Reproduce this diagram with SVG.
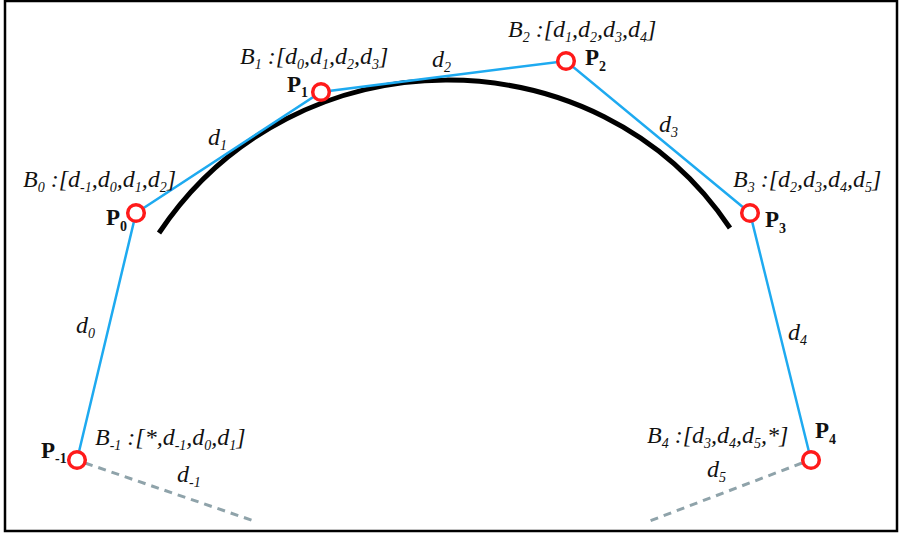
<svg xmlns="http://www.w3.org/2000/svg" width="899" height="535" viewBox="0 0 899 535">
<style>
.lab{font-family:"Liberation Serif","Times New Roman",serif;font-style:italic;font-size:24px;fill:#111}
.s{font-size:14px}
.pl{font-family:"Liberation Serif","Times New Roman",serif;font-weight:bold;font-size:23px;fill:#111}
.ps{font-size:14px}
.seg{stroke:#1eaaf0;stroke-width:2.5;fill:none}
.dash{stroke:#8fa3aa;stroke-width:3;stroke-dasharray:8 6;fill:none}
.pt{fill:#fff;stroke:#ff1a1a;stroke-width:3.5}
</style>
<rect x="5" y="1" width="892" height="530" fill="#fff" stroke="#000" stroke-width="2.5"/>
<g id="curve">
<path d="M159,233 C294,30 598,30 730,228" fill="none" stroke="#000" stroke-width="5"/>
</g>
<g id="connectors">
<line class="dash" x1="85" y1="463" x2="257" y2="522"/>
<line class="dash" x1="802" y1="463" x2="647" y2="522"/>
<polyline class="seg" points="77,460 136,213 321,92 566,61 750,213 811,460"/>
<text class="lab" x="76" y="333">d<tspan class="s" dy="5">0</tspan></text>
<text class="lab" x="208" y="145">d<tspan class="s" dy="5">1</tspan></text>
<text class="lab" x="432" y="67">d<tspan class="s" dy="5">2</tspan></text>
<text class="lab" x="659" y="132">d<tspan class="s" dy="5">3</tspan></text>
<text class="lab" x="788" y="340">d<tspan class="s" dy="5">4</tspan></text>
<text class="lab" x="177" y="482">d<tspan class="s" dy="5">-1</tspan></text>
<text class="lab" x="707" y="477">d<tspan class="s" dy="5">5</tspan></text>
</g>
<g id="node-pm1">
<circle class="pt" cx="77" cy="460" r="8.3"/>
<text class="pl" x="41" y="458">P<tspan class="ps" dy="5">-1</tspan></text>
<text class="lab" x="95" y="445">B<tspan class="s" dy="5">-1</tspan><tspan dy="-5"> :[*,d</tspan><tspan class="s" dy="5">-1</tspan><tspan dy="-5">,d</tspan><tspan class="s" dy="5">0</tspan><tspan dy="-5">,d</tspan><tspan class="s" dy="5">1</tspan><tspan dy="-5">]</tspan></text>
</g>
<g id="node-p0">
<circle class="pt" cx="136" cy="213" r="8.3"/>
<text class="pl" x="106" y="225">P<tspan class="ps" dy="6">0</tspan></text>
<text class="lab" x="23" y="187">B<tspan class="s" dy="5">0</tspan><tspan dy="-5"> :[d</tspan><tspan class="s" dy="5">-1</tspan><tspan dy="-5">,d</tspan><tspan class="s" dy="5">0</tspan><tspan dy="-5">,d</tspan><tspan class="s" dy="5">1</tspan><tspan dy="-5">,d</tspan><tspan class="s" dy="5">2</tspan><tspan dy="-5">]</tspan></text>
</g>
<g id="node-p1">
<circle class="pt" cx="321" cy="92" r="8.3"/>
<text class="pl" x="287" y="92">P<tspan class="ps" dy="5">1</tspan></text>
<text class="lab" x="240" y="64">B<tspan class="s" dy="5">1</tspan><tspan dy="-5"> :[d</tspan><tspan class="s" dy="5">0</tspan><tspan dy="-5">,d</tspan><tspan class="s" dy="5">1</tspan><tspan dy="-5">,d</tspan><tspan class="s" dy="5">2</tspan><tspan dy="-5">,d</tspan><tspan class="s" dy="5">3</tspan><tspan dy="-5">]</tspan></text>
</g>
<g id="node-p2">
<circle class="pt" cx="566" cy="61" r="8.3"/>
<text class="pl" x="585" y="65">P<tspan class="ps" dy="6">2</tspan></text>
<text class="lab" x="508" y="37">B<tspan class="s" dy="5">2</tspan><tspan dy="-5"> :[d</tspan><tspan class="s" dy="5">1</tspan><tspan dy="-5">,d</tspan><tspan class="s" dy="5">2</tspan><tspan dy="-5">,d</tspan><tspan class="s" dy="5">3</tspan><tspan dy="-5">,d</tspan><tspan class="s" dy="5">4</tspan><tspan dy="-5">]</tspan></text>
</g>
<g id="node-p3">
<circle class="pt" cx="750" cy="213" r="8.3"/>
<text class="pl" x="765" y="227">P<tspan class="ps" dy="6">3</tspan></text>
<text class="lab" x="733" y="187">B<tspan class="s" dy="5">3</tspan><tspan dy="-5"> :[d</tspan><tspan class="s" dy="5">2</tspan><tspan dy="-5">,d</tspan><tspan class="s" dy="5">3</tspan><tspan dy="-5">,d</tspan><tspan class="s" dy="5">4</tspan><tspan dy="-5">,d</tspan><tspan class="s" dy="5">5</tspan><tspan dy="-5">]</tspan></text>
</g>
<g id="node-p4">
<circle class="pt" cx="811" cy="460" r="8.3"/>
<text class="pl" x="815" y="438">P<tspan class="ps" dy="6">4</tspan></text>
<text class="lab" x="647" y="443">B<tspan class="s" dy="5">4</tspan><tspan dy="-5"> :[d</tspan><tspan class="s" dy="5">3</tspan><tspan dy="-5">,d</tspan><tspan class="s" dy="5">4</tspan><tspan dy="-5">,d</tspan><tspan class="s" dy="5">5</tspan><tspan dy="-5">,*]</tspan></text>
</g>
</svg>
